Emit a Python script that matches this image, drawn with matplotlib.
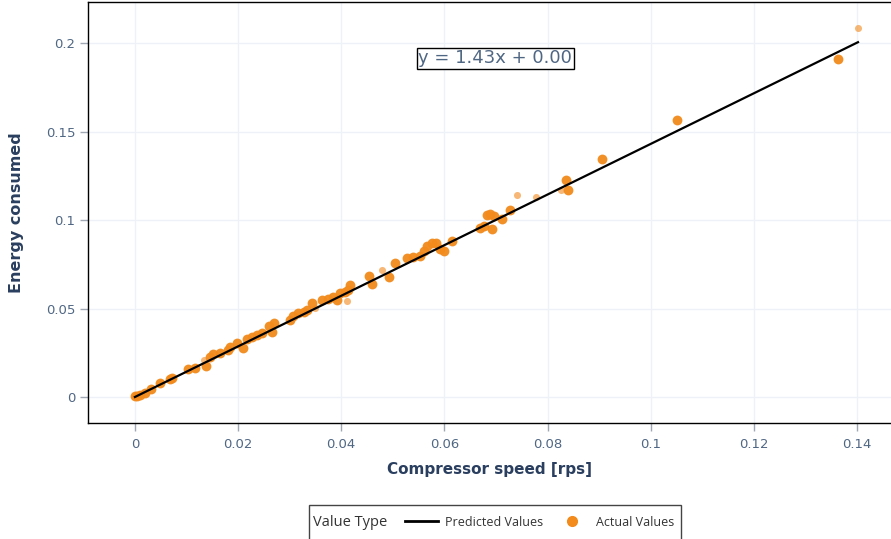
import numpy as np
import matplotlib
matplotlib.use("Agg")
import matplotlib.pyplot as plt
from matplotlib.lines import Line2D
from matplotlib.patches import Rectangle

# Measured samples: compressor speed [rps] vs energy consumed
speed = [0.0000, 0.0004, 0.0010, 0.0019, 0.0032, 0.0049, 0.0068, 0.0071, 0.0103, 0.0117,
         0.0138, 0.0146, 0.0152, 0.0165, 0.0181, 0.0184, 0.0197, 0.0210, 0.0217, 0.0227,
         0.0236, 0.0246, 0.0259, 0.0269, 0.0265, 0.0301, 0.0307, 0.0317, 0.0327, 0.0333,
         0.0343, 0.0363, 0.0375, 0.0385, 0.0392, 0.0398, 0.0408, 0.0417, 0.0414, 0.0453,
         0.0460, 0.0492, 0.0505, 0.0528, 0.0540, 0.0553, 0.0560, 0.0566, 0.0576, 0.0583,
         0.0592, 0.0599, 0.0615, 0.0670, 0.0676, 0.0683, 0.0689, 0.0696, 0.0693, 0.0712,
         0.0728, 0.0835, 0.0840, 0.0906, 0.1052, 0.1363]
energy = [0.0007, 0.0006, 0.0011, 0.0024, 0.0044, 0.0078, 0.0100, 0.0106, 0.0159, 0.0166,
          0.0177, 0.0228, 0.0243, 0.0251, 0.0266, 0.0285, 0.0307, 0.0279, 0.0327, 0.0338,
          0.0351, 0.0361, 0.0402, 0.0417, 0.0370, 0.0436, 0.0455, 0.0474, 0.0483, 0.0493,
          0.0531, 0.0549, 0.0555, 0.0565, 0.0549, 0.0587, 0.0596, 0.0630, 0.0606, 0.0681,
          0.0640, 0.0678, 0.0757, 0.0785, 0.0789, 0.0794, 0.0823, 0.0851, 0.0870, 0.0870,
          0.0836, 0.0827, 0.0879, 0.0955, 0.0968, 0.1031, 0.1036, 0.1021, 0.0950, 0.1006,
          0.1055, 0.1225, 0.1168, 0.1346, 0.1565, 0.1908]

# fainter samples drawn behind the main ones
speed_faint = [0.0012, 0.0133, 0.0350, 0.0411, 0.0479, 0.0741, 0.0777, 0.0827, 0.1402]
energy_faint = [0.0016, 0.0210, 0.0502, 0.0540, 0.0719, 0.1141, 0.1131, 0.1168, 0.2084]

slope = 1.43
intercept = 0.00

x_ticks = [0, 0.02, 0.04, 0.06, 0.08, 0.1, 0.12, 0.14]
x_tick_labels = ["0", "0.02", "0.04", "0.06", "0.08", "0.1", "0.12", "0.14"]
y_ticks = [0, 0.05, 0.1, 0.15, 0.2]
y_tick_labels = ["0", "0.05", "0.1", "0.15", "0.2"]

plt.rcParams["font.family"] = ["DejaVu Sans"]

ORANGE = "#F28A1C"
TICK_COLOR = "#506784"
TITLE_COLOR = "#2A3F5F"
GRID_COLOR = "#EEF2F8"

fig = plt.figure(figsize=(8.91, 5.39), dpi=100)
ax = fig.add_axes([88 / 891, 1 - 423 / 539, 1 - 88 / 891, 421 / 539])

ax.scatter(speed_faint, energy_faint, s=26, color=ORANGE, alpha=0.6, linewidths=0, zorder=2)
ax.scatter(speed, energy, s=50, color=ORANGE, alpha=0.95, linewidths=0, zorder=3)

all_x = np.array(speed + speed_faint)
fit_x = np.array([all_x.min(), all_x.max()])
ax.plot(fit_x, slope * fit_x + intercept, color="black", linewidth=1.6, zorder=4)

ax.text(0.0699, 0.1914, f"y = {slope:.2f}x + {intercept:.2f}", fontsize=13,
        color=TICK_COLOR, ha="center", va="center", zorder=5,
        bbox=dict(boxstyle="square,pad=0.08", facecolor="white", edgecolor="black", linewidth=1))

ax.set_xlim(-0.0091, 0.1466)
ax.set_ylim(-0.0147, 0.2232)
ax.set_xticks(x_ticks)
ax.set_xticklabels(x_tick_labels)
ax.set_yticks(y_ticks)
ax.set_yticklabels(y_tick_labels)
ax.tick_params(axis="both", direction="out", length=6, width=1, color="#A0A8B4",
               labelcolor=TICK_COLOR, labelsize=9.5)
ax.tick_params(axis="x", pad=5)
ax.tick_params(axis="y", pad=3)
ax.grid(True, color=GRID_COLOR, linewidth=1)
ax.set_axisbelow(True)

for side in ["left", "top", "bottom"]:
    ax.spines[side].set_color("black")
    ax.spines[side].set_linewidth(1)
ax.spines["right"].set_visible(False)

ax.set_xlabel("Compressor speed [rps]", fontsize=11, fontweight="bold",
              color=TITLE_COLOR, labelpad=8)
ax.set_ylabel("Energy consumed", fontsize=11.5, fontweight="bold",
              color=TITLE_COLOR, labelpad=16)

# legend strip along the bottom edge
legend_font = ["Open Sans", "DejaVu Sans"]
fig.patches.append(Rectangle((309 / 891, -0.02), 372 / 891, 0.02 + 1 - 505 / 539,
                             transform=fig.transFigure, facecolor="white",
                             edgecolor="#444444", linewidth=1))
fig.text(313 / 891, 1 - 522 / 539, "Value Type", fontsize=10.5, color="#333333",
         ha="left", va="center", family=legend_font)
handles = [Line2D([], [], color="black", linewidth=2),
           Line2D([], [], marker="o", linestyle="none", color=ORANGE, markersize=7)]
fig.legend(handles, ["Predicted Values", "Actual Values"], loc="center left",
           bbox_to_anchor=(400 / 891, 1 - 522 / 539), ncol=2, frameon=False,
           prop={"family": legend_font, "size": 9}, handlelength=2.6,
           handletextpad=0.6, columnspacing=1.0, labelcolor="#333333", borderaxespad=0)

fig.savefig("out.png", dpi=100)
